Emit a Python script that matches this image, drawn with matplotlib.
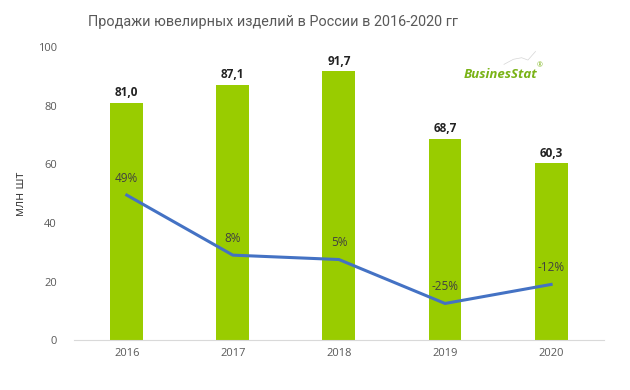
import matplotlib.pyplot as plt
from matplotlib.lines import Line2D

# DATA
years = ["2016", "2017", "2018", "2019", "2020"]
sales = [81.0, 87.1, 91.7, 68.7, 60.3]
growth = [49, 8, 5, -25, -12]

plt.rcParams['font.family'] = ['Open Sans', 'DejaVu Sans']

fig = plt.figure(figsize=(6.3, 3.9), dpi=100)
ax = fig.add_axes([0.117, 0.128, 0.842, 0.751])

x = list(range(len(years)))
ax.bar(x, sales, width=0.31, color='#99CC00', zorder=2)
for xi, v in zip(x, sales):
    ax.text(xi, v + 1.2, f"{v:.1f}".replace('.', ','), ha='center', va='bottom',
            fontsize=8.5, fontweight='bold', color='#222222')

ax.set_xlim(-0.5, len(years) - 0.5)
ax.set_ylim(0, 100)
ax.set_xticks(x)
ax.set_xticklabels(years)
ax.set_yticks(range(0, 101, 20))
ax.tick_params(axis='both', length=0, labelsize=8, colors='#595959')
ax.tick_params(axis='y', pad=12)
ax.tick_params(axis='x', pad=6)
for s in ['top', 'right', 'left']:
    ax.spines[s].set_visible(False)
ax.spines['bottom'].set_color('#D9D9D9')
ax.set_ylabel('млн шт', fontsize=9, color='#404040', labelpad=8)

# growth line on hidden secondary axis
ax2 = ax.twinx()
ax2.set_ylim(-50, 150)
ax2.plot(x, growth, color='#4472C4', linewidth=2.2, zorder=3)
for xi, g in zip(x, growth):
    ax2.text(xi, g + 7, f"{g}%", ha='center', va='bottom', fontsize=8.5, color='#404040')
ax2.axis('off')

fig.text(0.434, 0.944, 'Продажи ювелирных изделий в России в 2016-2020 гг',
         ha='center', va='center', fontsize=10.4, color='#595959',
         family=['Roboto', 'DejaVu Sans'])

# logo
fig.add_artist(Line2D([0.80, 0.815, 0.828, 0.838, 0.85], [0.835, 0.848, 0.852, 0.846, 0.868],
                      transform=fig.transFigure, color='#D5D5D5', linewidth=0.5))
fig.text(0.795, 0.81, 'BusinesStat', ha='center', va='center', fontsize=9.5,
         fontstyle='italic', fontweight='bold', color='#7AB317')
fig.text(0.857, 0.83, '®', ha='center', va='center', fontsize=5, color='#7AB317')

fig.savefig('out.png', dpi=100)
